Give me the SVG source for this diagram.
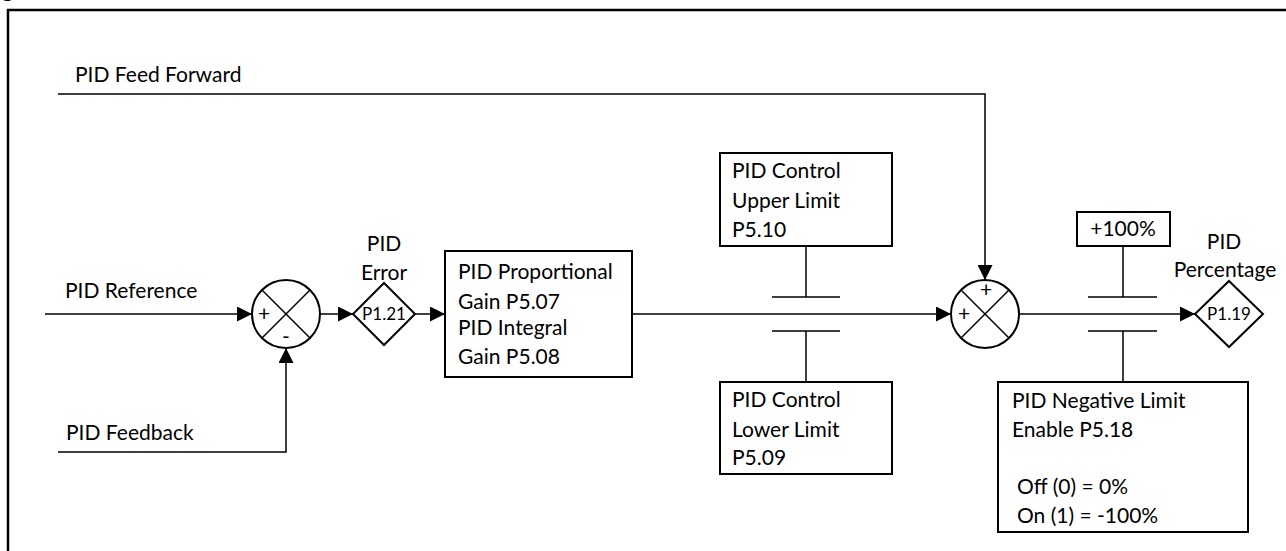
<svg xmlns="http://www.w3.org/2000/svg" width="1286" height="551" viewBox="0 0 1286 551">
<style>
.t{font-family:Lato,"Liberation Sans",sans-serif;font-size:21px;fill:#000}
.m{text-anchor:middle}
.s{font-size:17px}
.box{fill:#fff;stroke:#000;stroke-width:2}
.ln{fill:none;stroke:#000;stroke-width:1.5}
.arr{fill:none;stroke:#000;stroke-width:1.5;marker-end:url(#ah)}
</style>
<defs>
<marker id="ah" markerUnits="userSpaceOnUse" markerWidth="15" markerHeight="15" refX="15" refY="7.5" orient="auto">
<path d="M0,0 L15,7.5 L0,15 z" fill="#000"/>
</marker>
</defs>
<rect width="1286" height="551" fill="#fff"/>
<text class="t" x="2" y="-3" font-weight="bold" font-size="24">g</text>
<rect x="8" y="10" width="1320" height="620" fill="none" stroke="#000" stroke-width="2.5"/>

<g id="connectors">
<path class="arr" d="M45,314 H252"/>
<path class="arr" d="M58,452 H286 V348"/>
<path class="arr" d="M320,314 H353"/>
<path class="arr" d="M415,314 H445"/>
<path class="arr" d="M632,314 H951"/>
<path class="arr" d="M58,94 H985 V280"/>
<path class="arr" d="M1019,314 H1195"/>
<path class="ln" d="M806,246 V297 M772,297 H840 M772,331 H840 M806,331 V382"/>
<path class="ln" d="M1123,246 V297 M1088,297 H1157 M1088,331 H1157 M1123,331 V382"/>
</g>

<g id="labels">
<text class="t" x="75" y="82">PID Feed Forward</text>
<text class="t" x="65" y="298">PID Reference</text>
<text class="t" x="66" y="440">PID Feedback</text>
</g>

<g id="sum1">
<circle cx="286" cy="314" r="34" fill="#fff" stroke="#000" stroke-width="2"/>
<path class="ln" d="M262,290 L310,338 M310,290 L262,338" stroke-width="1"/>
<text class="t m" x="264" y="321" font-size="18">+</text>
<text class="t m" x="286" y="344" font-size="18">-</text>
</g>

<g id="pid-error">
<text class="t m" x="384" y="251">PID</text>
<text class="t m" x="384" y="280">Error</text>
<path class="box" d="M384,283 L415,314 L384,345 L353,314 z"/>
<text class="t m s" x="384" y="320">P1.21</text>
</g>

<g id="gain-box">
<rect class="box" x="445" y="251" width="187" height="126"/>
<text class="t" x="458" y="279">PID Proportional</text>
<text class="t" x="458" y="309">Gain P5.07</text>
<text class="t" x="458" y="335">PID Integral</text>
<text class="t" x="458" y="364">Gain P5.08</text>
</g>

<g id="upper-limit">
<rect class="box" x="720" y="153" width="172" height="93"/>
<text class="t" x="732" y="178">PID Control</text>
<text class="t" x="732" y="208">Upper Limit</text>
<text class="t" x="732" y="237">P5.10</text>
</g>

<g id="lower-limit">
<rect class="box" x="720" y="382" width="172" height="92"/>
<text class="t" x="732" y="407">PID Control</text>
<text class="t" x="732" y="437">Lower Limit</text>
<text class="t" x="732" y="465">P5.09</text>
</g>

<g id="sum2">
<circle cx="985" cy="314" r="34" fill="#fff" stroke="#000" stroke-width="2"/>
<path class="ln" d="M961,290 L1009,338 M1009,290 L961,338" stroke-width="1"/>
<text class="t m" x="986" y="297" font-size="18">+</text>
<text class="t m" x="964" y="321" font-size="18">+</text>
</g>

<g id="plus100">
<rect class="box" x="1077" y="212" width="93" height="34"/>
<text class="t m" x="1123" y="236">+100%</text>
</g>

<g id="pid-percentage">
<text class="t m" x="1224" y="249">PID</text>
<text class="t m" x="1225" y="277">Percentage</text>
<path class="box" d="M1229,281 L1263,314 L1229,347 L1195,314 z"/>
<text class="t m s" x="1229" y="320">P1.19</text>
</g>

<g id="neg-limit">
<rect class="box" x="998" y="382" width="250" height="150"/>
<text class="t" x="1012" y="408">PID Negative Limit</text>
<text class="t" x="1012" y="437">Enable P5.18</text>
<text class="t" x="1017" y="494">Off (0) = 0%</text>
<text class="t" x="1017" y="523">On (1) = -100%</text>
</g>
</svg>
